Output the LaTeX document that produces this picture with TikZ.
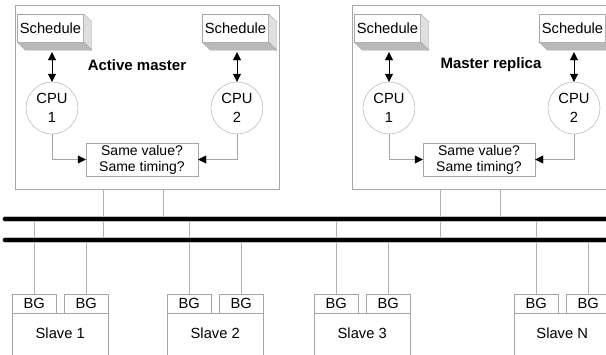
\documentclass[tikz,border=0pt]{standalone}
\usepackage{fontspec}
\setmainfont{Liberation Sans}
\usetikzlibrary{arrows.meta,calc}

\tikzset{
  frame/.style={draw=gray!70, minimum width=264, minimum height=184, inner sep=0},
  sched/.style={draw=gray!70, fill=white, minimum width=66, minimum height=28, inner sep=0},
  side/.style={draw=gray!70, fill=gray!25},
  under/.style={draw=gray!70, fill=gray!55},
  cpu/.style={circle, draw=gray!70, minimum size=52, inner sep=0, align=center},
  cmpbox/.style={draw=gray!70, minimum width=112, minimum height=33, inner sep=0, align=center,
    font=\fontsize{14}{16}\selectfont},
  title/.style={font=\fontsize{15}{18}\selectfont\bfseries},
  bg/.style={draw=gray!70, minimum width=44, minimum height=19, inner sep=0},
  slave/.style={draw=gray!70, minimum width=96, minimum height=50, inner sep=0},
  link/.style={gray!70, -{Triangle[length=8pt,width=8pt,color=black]}},
  dbl/.style={black, arrows={Triangle[length=8pt,width=8pt]-Triangle[length=8pt,width=8pt]}},
  tap/.style={gray!60},
  bus/.style={line width=4.5pt, line cap=round},
}

\begin{document}
\begin{tikzpicture}[x=1pt,y=-1pt,font=\fontsize{14.7}{19}\selectfont]
\clip (0,0) rectangle (606,354);

% the two bus lines
\coordinate (busA) at (5,219);
\coordinate (busB) at (5,240);

% master and its replica
\foreach \dx/\tx/\title/\m in {0/137/Active master/am, 337/491/Master replica/mr}{
  \node[frame] (\m) at (\dx+147,97) {};
  \node[title] (\m-title) at (\tx,65) {\title};

  \node[sched] (\m-s1) at (\dx+50.5,28) {Schedule};
  \node[sched] (\m-s2) at (\dx+235.5,28) {Schedule};
  \foreach \s in {\m-s1,\m-s2}{
    \filldraw[side] (\s.north east) -- ++(8,8) -- ([shift={(8,8)}]\s.south east) -- (\s.south east) -- cycle;
    \filldraw[under] (\s.south west) -- ++(8,8) -- ([shift={(8,8)}]\s.south east) -- (\s.south east) -- cycle;
    \coordinate (\s b) at ([shift={(0,10)}]\s.south);
  }

  \node[cpu] (\m-c1) at (\dx+52,108) {CPU\\1};
  \node[cpu] (\m-c2) at (\dx+237,108) {CPU\\2};
  \draw[dbl] (\m-c1.north) -- (\m-c1.north |- \m-s1b);
  \draw[dbl] (\m-c2.north) -- (\m-c2.north |- \m-s2b);

  \node[cmpbox] (\m-cmp) at (\dx+142,159.5) {Same value?\\Same timing?};
  \draw[link] (\m-c1.south) |- (\m-cmp.west);
  \draw[link] (\m-c2.south) |- (\m-cmp.east);

  % taps down to the buses
  \coordinate (\m-t1) at (\dx+103,189);
  \coordinate (\m-t2) at (\dx+163,189);
  \draw[tap] (\m-t1) -- (\m-t1 |- busB);
  \draw[tap] (\m-t2) -- (\m-t2 |- busA);
}

% slaves with their bus guardians
\foreach \n/\x in {1/12, 2/167, 3/314, N/514}{
  \node[slave, anchor=north west] (sl\n) at (\x,313) {};
  \node[bg, anchor=south west] (sl\n-bg1) at (sl\n.north west) {BG};
  \node[bg, anchor=south east] (sl\n-bg2) at (sl\n.north east) {BG};
  \node (sl\n-lbl) at ([shift={(0,20)}]sl\n.north) {Slave \n};
  \draw[tap] (sl\n-bg1.north) -- (sl\n-bg1.north |- busA);
  \draw[tap] (sl\n-bg2.north) -- (sl\n-bg2.north |- busB);
}

\draw[bus, gray!50, line width=5.5pt] (busA) -- ++(620,0);
\draw[bus, gray!50, line width=5.5pt] (busB) -- ++(620,0);
\draw[bus] (busA) -- ++(620,0);
\draw[bus] (busB) -- ++(620,0);

\end{tikzpicture}
\end{document}
